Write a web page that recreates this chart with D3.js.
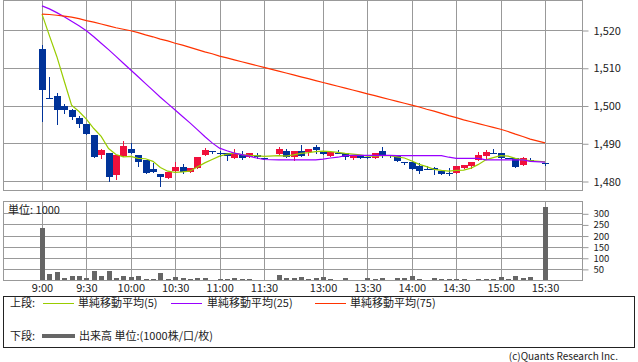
<!DOCTYPE html>
<html lang="ja">
<head>
<meta charset="utf-8">
<title>株価チャート</title>
<script src="https://cdnjs.cloudflare.com/ajax/libs/d3/7.8.5/d3.min.js"></script>
<style>
  body { margin: 0; background: #fff; }
  svg text { font-family: "Noto Sans CJK JP", "DejaVu Sans", sans-serif; font-size: 11px; fill: #222; }
  .axis path { display: none; }
  .axis line { stroke: #999; }
  .vol text { font-size: 9.5px; }
</style>
</head>
<body>
<div id="chart"></div>
<script>
// 5分足, 0 = 9:00 ... 30 = 11:30, 31 = 昼休み(空き), 32 = 12:30 ... 68 = 15:30
var tickIdx = [0, 6, 12, 18, 24, 30, 38, 44, 50, 56, 62, 68];
var tickLabels = ["9:00", "9:30", "10:00", "10:30", "11:00", "11:30", "13:00", "13:30", "14:00", "14:30", "15:00", "15:30"];
var priceTicks = [1480, 1490, 1500, 1510, 1520];
var volTicks = [50, 100, 150, 200, 250, 300];

var open = [1515,1502,1502.6,1499.8,1498.8,1496.6,1495.2,1492.1,1486.9,1487.5,1481.6,
  1486.5,1488.6,1487.0,1485.6,1483.1,1481.8,1480.9,1482.7,1483.8,1482.3,
  1483.4,1486.9,1488.0,1487.3,1487.3,1486.0,1486.8,1486.3,1486.9,1486.1,
  null,1487.2,1487.9,1486.3,1487.9,1487.6,1488.9,1487.8,1486.7,1487.3,1487.3,
  1486.0,1486.9,1486.3,1486.0,1487.9,1487.0,1487.0,1485.0,1485.0,1484.0,
  1483.1,1483.4,1482.7,1482.0,1482.2,1483.4,1484.0,1485.6,1486.7,1487.3,
  1487.3,1486.0,1486.0,1484.2,1485.6,null,1484.7];
var high = [1516,1507.6,1503.2,1500.5,1499.2,1497.2,1495.2,1492.1,1488.6,1487.5,1487.0,
  1490.7,1490.0,1487.0,1485.6,1484.7,1481.8,1482.3,1485.0,1484.4,1483.4,
  1486.3,1488.7,1488.0,1488.0,1487.3,1488.5,1487.9,1487.3,1487.3,1486.1,
  null,1489.1,1488.5,1487.9,1489.5,1488.5,1489.5,1487.8,1487.6,1488.2,1487.3,
  1486.9,1486.9,1486.6,1487.4,1488.9,1487.0,1487.0,1485.0,1485.0,1484.9,
  1484.0,1483.7,1482.7,1483.4,1484.0,1484.2,1485.0,1487.6,1488.3,1488.5,
  1487.3,1486.0,1486.0,1486.3,1486.0,null,1484.7];
var low = [1496,1502,1495,1497.9,1496.3,1494.4,1492.4,1486.3,1486.0,1480,1480.5,
  1486.5,1487.4,1484.0,1482.2,1482.3,1478.8,1480.9,1482.7,1482.0,1482.3,
  1483.4,1486.9,1487.3,1486.7,1485.5,1486.0,1485.9,1486.3,1486.0,1485.7,
  null,1487.2,1486.3,1485.6,1486.6,1486.9,1487.5,1487.1,1486.7,1487.3,1485.9,
  1485.8,1486.2,1486.0,1486.0,1486.3,1486.3,1485.4,1484.4,1483.1,1482.2,
  1483.1,1481.8,1481.8,1481.6,1482.2,1483.4,1483.5,1485.6,1486.2,1487.3,
  1486.0,1486.0,1483.8,1484.2,1485.2,null,1484.2];
var close = [1504,1502,1498.9,1498.9,1496.9,1495.1,1492.4,1486.3,1488.1,1481.1,1487.0,
  1489.2,1487.4,1485.1,1482.2,1482.3,1481.0,1482.3,1483.8,1482.5,1483.4,
  1486.3,1488.2,1488.0,1487.3,1486.7,1487.1,1486.0,1487.3,1486.3,1485.7,
  null,1488.4,1486.3,1487.9,1486.6,1488.5,1488.2,1487.1,1487.6,1487.3,1486.3,
  1486.9,1486.2,1486.3,1487.4,1486.8,1487.0,1485.4,1485.0,1483.1,1482.7,
  1483.1,1482.8,1481.8,1482.0,1484.0,1484.2,1485.0,1486.9,1487.8,1487.3,
  1486.0,1486.0,1483.8,1486.0,1485.6,null,1484.7];
var volume = [233,27,37,9,18,18,10,40,18,40,10,
  18,13,18,6,6,31,4,13,9,6,
  9,9,2,4,4,9,4,4,1,1,
  null,22,9,9,13,4,9,13,4,1,9,
  1,1,9,4,9,1,9,9,18,4,
  1,9,4,4,4,4,1,4,4,4,
  13,4,18,9,13,null,330];

var ma5 = [1524.2,1518.5,1513,1506.5,1500.1,1498.4,1496.4,1493.9,1491.8,1488.6,1487.0,
  1486.4,1486.5,1486.0,1485.9,1485.2,1483.6,1482.6,1482.3,1482.4,1482.6,
  1483.7,1484.8,1485.7,1486.6,1487.1,1487.4,1487.0,1486.8,1486.7,1486.5,
  null,1486.7,1486.6,1486.9,1487.3,1487.5,1487.8,1487.9,1487.8,1487.6,1487.3,
  1487.1,1486.9,1486.6,1486.6,1486.7,1486.7,1486.4,1486.1,1485.3,1484.4,
  1483.8,1483.1,1482.8,1482.6,1482.8,1482.9,1483.4,1484.4,1485.6,1486.2,
  1486.7,1486.6,1486.0,1485.6,1485.4,null,1485.1];
var ma25 = [1526.4,1525.6,1524.6,1523.5,1522.3,1521.1,1519.8,1518.2,1516.5,1514.8,1513.0,
  1511.2,1509.4,1507.6,1505.8,1504.0,1502.2,1500.5,1498.8,1497.1,1495.4,
  1493.6,1491.8,1490.1,1488.7,1488.0,1487.4,1487.0,1486.6,1486.1,1485.7,
  null,1485.6,1485.6,1485.6,1485.6,1485.6,1485.6,1485.8,1486.1,1486.3,1486.7,
  1486.8,1486.8,1486.8,1486.8,1486.8,1486.8,1486.7,1486.7,1486.7,1486.7,
  1486.7,1486.7,1486.7,1486.3,1486.0,1486.0,1486.0,1486.0,1485.6,1485.6,
  1485.6,1485.6,1485.6,1485.6,1485.2,null,1485.0];
var ma75 = [1524.2,1524.1,1523.9,1523.7,1523.4,1523.0,1522.5,1522.1,1521.6,1521.1,1520.6,
  1520.2,1519.8,1519.3,1518.7,1518.2,1517.6,1517.1,1516.5,1516.0,1515.4,
  1514.8,1514.2,1513.7,1513.1,1512.6,1512.1,1511.6,1511.1,1510.6,1510.1,
  null,1509.1,1508.6,1508.1,1507.6,1507.1,1506.6,1506.1,1505.6,1505.1,1504.6,
  1504.1,1503.6,1503.1,1502.6,1502.1,1501.6,1501.1,1500.6,1500.1,1499.6,
  1499.0,1498.5,1497.9,1497.3,1496.8,1496.2,1495.7,1495.2,1494.7,1494.2,
  1493.7,1493.1,1492.4,1491.8,1491.1,null,1490.1];

var upColor = "#f0103c", downColor = "#003399";
var left = 3, right = 582;
var top1 = 0, bottom1 = 190, top2 = 201, bottom2 = 280;

var svg = d3.select("#chart").append("svg")
  .attr("width", 638)
  .attr("height", 362);

var x = d3.scaleLinear().domain([0, 68]).range([42, 545]);
var y = d3.scaleLinear().domain([1480, 1520]).range([181, 30]);
var yv = d3.scaleLinear().domain([0, 300]).range([280, 213.3]);

function px(v) { return Math.round(v) + 0.5; }

// 枠とグリッド
[[top1, bottom1, priceTicks, y], [top2, bottom2, volTicks, yv]].forEach(function (p) {
  var g = svg.append("g").attr("shape-rendering", "crispEdges");
  g.selectAll(".h").data(p[2]).enter().append("line")
    .attr("x1", left).attr("x2", right)
    .attr("y1", function (d) { return px(p[3](d)); })
    .attr("y2", function (d) { return px(p[3](d)); })
    .attr("stroke", "#999");
  g.selectAll(".v").data(tickIdx).enter().append("line")
    .attr("x1", function (d) { return px(x(d)); })
    .attr("x2", function (d) { return px(x(d)); })
    .attr("y1", p[0]).attr("y2", p[1])
    .attr("stroke", "#999");
  g.append("rect")
    .attr("x", left + 0.5).attr("y", p[0] + 0.5)
    .attr("width", right - left).attr("height", p[1] - p[0])
    .attr("fill", "none").attr("stroke", "#999");
});

svg.append("g")
  .attr("class", "axis")
  .attr("transform", "translate(" + (right + 0.5) + ",0.5)")
  .call(d3.axisRight(y).tickValues(priceTicks).tickSize(6).tickPadding(5).tickFormat(d3.format(",")));

svg.append("g")
  .attr("class", "axis vol")
  .attr("transform", "translate(" + (right + 0.5) + ",0.5)")
  .call(d3.axisRight(yv).tickValues(volTicks).tickSize(6).tickPadding(5));

svg.append("g")
  .attr("class", "axis")
  .attr("transform", "translate(0," + bottom2 + ")")
  .call(d3.axisBottom(x).tickValues(tickIdx).tickSize(0).tickPadding(4)
    .tickFormat(function (d, i) { return tickLabels[i]; }));

svg.selectAll(".axis text").attr("fill", "#222");

// ローソク足
var idx = d3.range(open.length).filter(function (i) { return open[i] !== null; });
var candles = svg.append("g").attr("shape-rendering", "crispEdges");

candles.selectAll(".wick").data(idx).enter().append("line")
  .attr("x1", function (i) { return px(x(i)); })
  .attr("x2", function (i) { return px(x(i)); })
  .attr("y1", function (i) { return Math.round(y(high[i])); })
  .attr("y2", function (i) { return Math.round(y(low[i])) + 1; })
  .attr("stroke", function (i) { return close[i] > open[i] ? upColor : downColor; });

candles.selectAll(".body").data(idx).enter().append("rect")
  .attr("x", function (i) { return Math.round(x(i)) - 3; })
  .attr("width", 7)
  .attr("y", function (i) { return Math.round(y(Math.max(open[i], close[i]))); })
  .attr("height", function (i) {
    return Math.max(1, Math.round(y(Math.min(open[i], close[i]))) - Math.round(y(Math.max(open[i], close[i]))));
  })
  .attr("fill", function (i) { return close[i] > open[i] ? upColor : downColor; });

// 移動平均
[[ma5, "#99cc00"], [ma25, "#9900ff"], [ma75, "#ff3300"]].forEach(function (m) {
  var pts = d3.range(m[0].length).filter(function (i) { return m[0][i] !== null; });
  svg.append("path")
    .datum(pts)
    .attr("fill", "none")
    .attr("stroke", m[1])
    .attr("stroke-width", 1.2)
    .attr("d", d3.line()
      .x(function (i) { return x(i); })
      .y(function (i) { return y(m[0][i]); }));
});

// 出来高
var vidx = d3.range(volume.length).filter(function (i) { return volume[i] !== null; });
svg.append("g").attr("shape-rendering", "crispEdges")
  .selectAll("rect").data(vidx).enter().append("rect")
  .attr("x", function (i) { return Math.round(x(i)) - 2; })
  .attr("width", 5)
  .attr("y", function (i) { return yv(volume[i]); })
  .attr("height", function (i) { return yv(0) - yv(volume[i]); })
  .attr("fill", "#666");

svg.append("text")
  .attr("x", 8).attr("y", 214)
  .text("単位: 1000");

// 凡例
var lg = svg.append("g");
lg.append("rect")
  .attr("x", 3.5).attr("y", 296.5)
  .attr("width", 631).attr("height", 51)
  .attr("fill", "none").attr("stroke", "#222")
  .attr("shape-rendering", "crispEdges");

lg.append("text").attr("x", 10).attr("y", 307).text("上段:");
lg.append("text").attr("x", 10).attr("y", 340).text("下段:");

var legendItems = [
  { label: "単純移動平均(5)", color: "#99cc00", x1: 43, x2: 74, tx: 78 },
  { label: "単純移動平均(25)", color: "#9900ff", x1: 171, x2: 202, tx: 207 },
  { label: "単純移動平均(75)", color: "#ff3300", x1: 315, x2: 346, tx: 350 }
];
legendItems.forEach(function (d) {
  lg.append("line")
    .attr("x1", d.x1).attr("x2", d.x2)
    .attr("y1", 303.5).attr("y2", 303.5)
    .attr("stroke", d.color);
  lg.append("text").attr("x", d.tx).attr("y", 307).text(d.label);
});

lg.append("line")
  .attr("x1", 42).attr("x2", 75)
  .attr("y1", 336).attr("y2", 336)
  .attr("stroke", "#666").attr("stroke-width", 4);
lg.append("text").attr("x", 79).attr("y", 340).text("出来高 単位:(1000株/口/枚)");

svg.append("text")
  .attr("x", 618).attr("y", 360)
  .attr("text-anchor", "end")
  .style("font-size", "10px")
  .attr("fill", "#444")
  .text("(c)Quants Research Inc.");
</script>
</body>
</html>
